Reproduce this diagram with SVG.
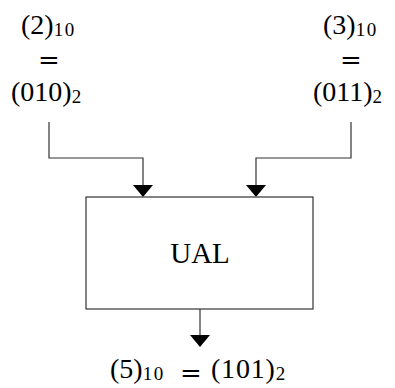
<svg xmlns="http://www.w3.org/2000/svg" width="395" height="388" viewBox="0 0 395 388">
  <style>
    .t { font-family: "Liberation Serif", "DejaVu Serif", serif; font-size: 28px; fill: #000; }
    .m { text-anchor: middle; }
    .sub { font-size: 19px; letter-spacing: 1.5px; }
    .eq { font-family: "DejaVu Serif", "Liberation Serif", serif; font-size: 26px; fill: #000; text-anchor: middle; }
    .line { fill: none; stroke: #333; stroke-width: 1.2; }
    .box { fill: #fff; stroke: #333; stroke-width: 1.2; }
  </style>
  <defs>
    <marker id="arrow" viewBox="0 -10 12 20" refX="0" refY="0" markerWidth="12" markerHeight="20" markerUnits="userSpaceOnUse" orient="auto">
      <path d="M0,-10 L12,0 L0,10 z" fill="#000"/>
    </marker>
  </defs>
  <g id="connectors">
    <path class="line" d="M49,122 V158 H143 V185" marker-end="url(#arrow)"/>
    <path class="line" d="M351,122 V158 H256 V185" marker-end="url(#arrow)"/>
    <path class="line" d="M200,309 V335" marker-end="url(#arrow)"/>
  </g>
  <g id="inputA">
    <text class="t" x="21" y="34">(2)<tspan class="sub" dy="2">10</tspan></text>
    <text class="eq" x="49" y="69">=</text>
    <text class="t" x="11" y="101">(010)<tspan class="sub" dy="2">2</tspan></text>
  </g>
  <g id="inputB">
    <text class="t" x="323" y="34">(3)<tspan class="sub" dy="2">10</tspan></text>
    <text class="eq" x="351" y="69">=</text>
    <text class="t" x="313" y="101">(011)<tspan class="sub" dy="2">2</tspan></text>
  </g>
  <g id="ual">
    <rect class="box" x="86" y="197" width="227" height="112"/>
    <text class="t m" x="200" y="263" style="font-size:29px">UAL</text>
  </g>
  <g id="output">
    <text class="t" x="110" y="378">(5)<tspan class="sub" dy="2">10</tspan></text>
    <text class="eq" x="191" y="382">=</text>
    <text class="t" x="211" y="378" style="letter-spacing:0.8px">(101)<tspan class="sub" dy="2">2</tspan></text>
  </g>
</svg>
